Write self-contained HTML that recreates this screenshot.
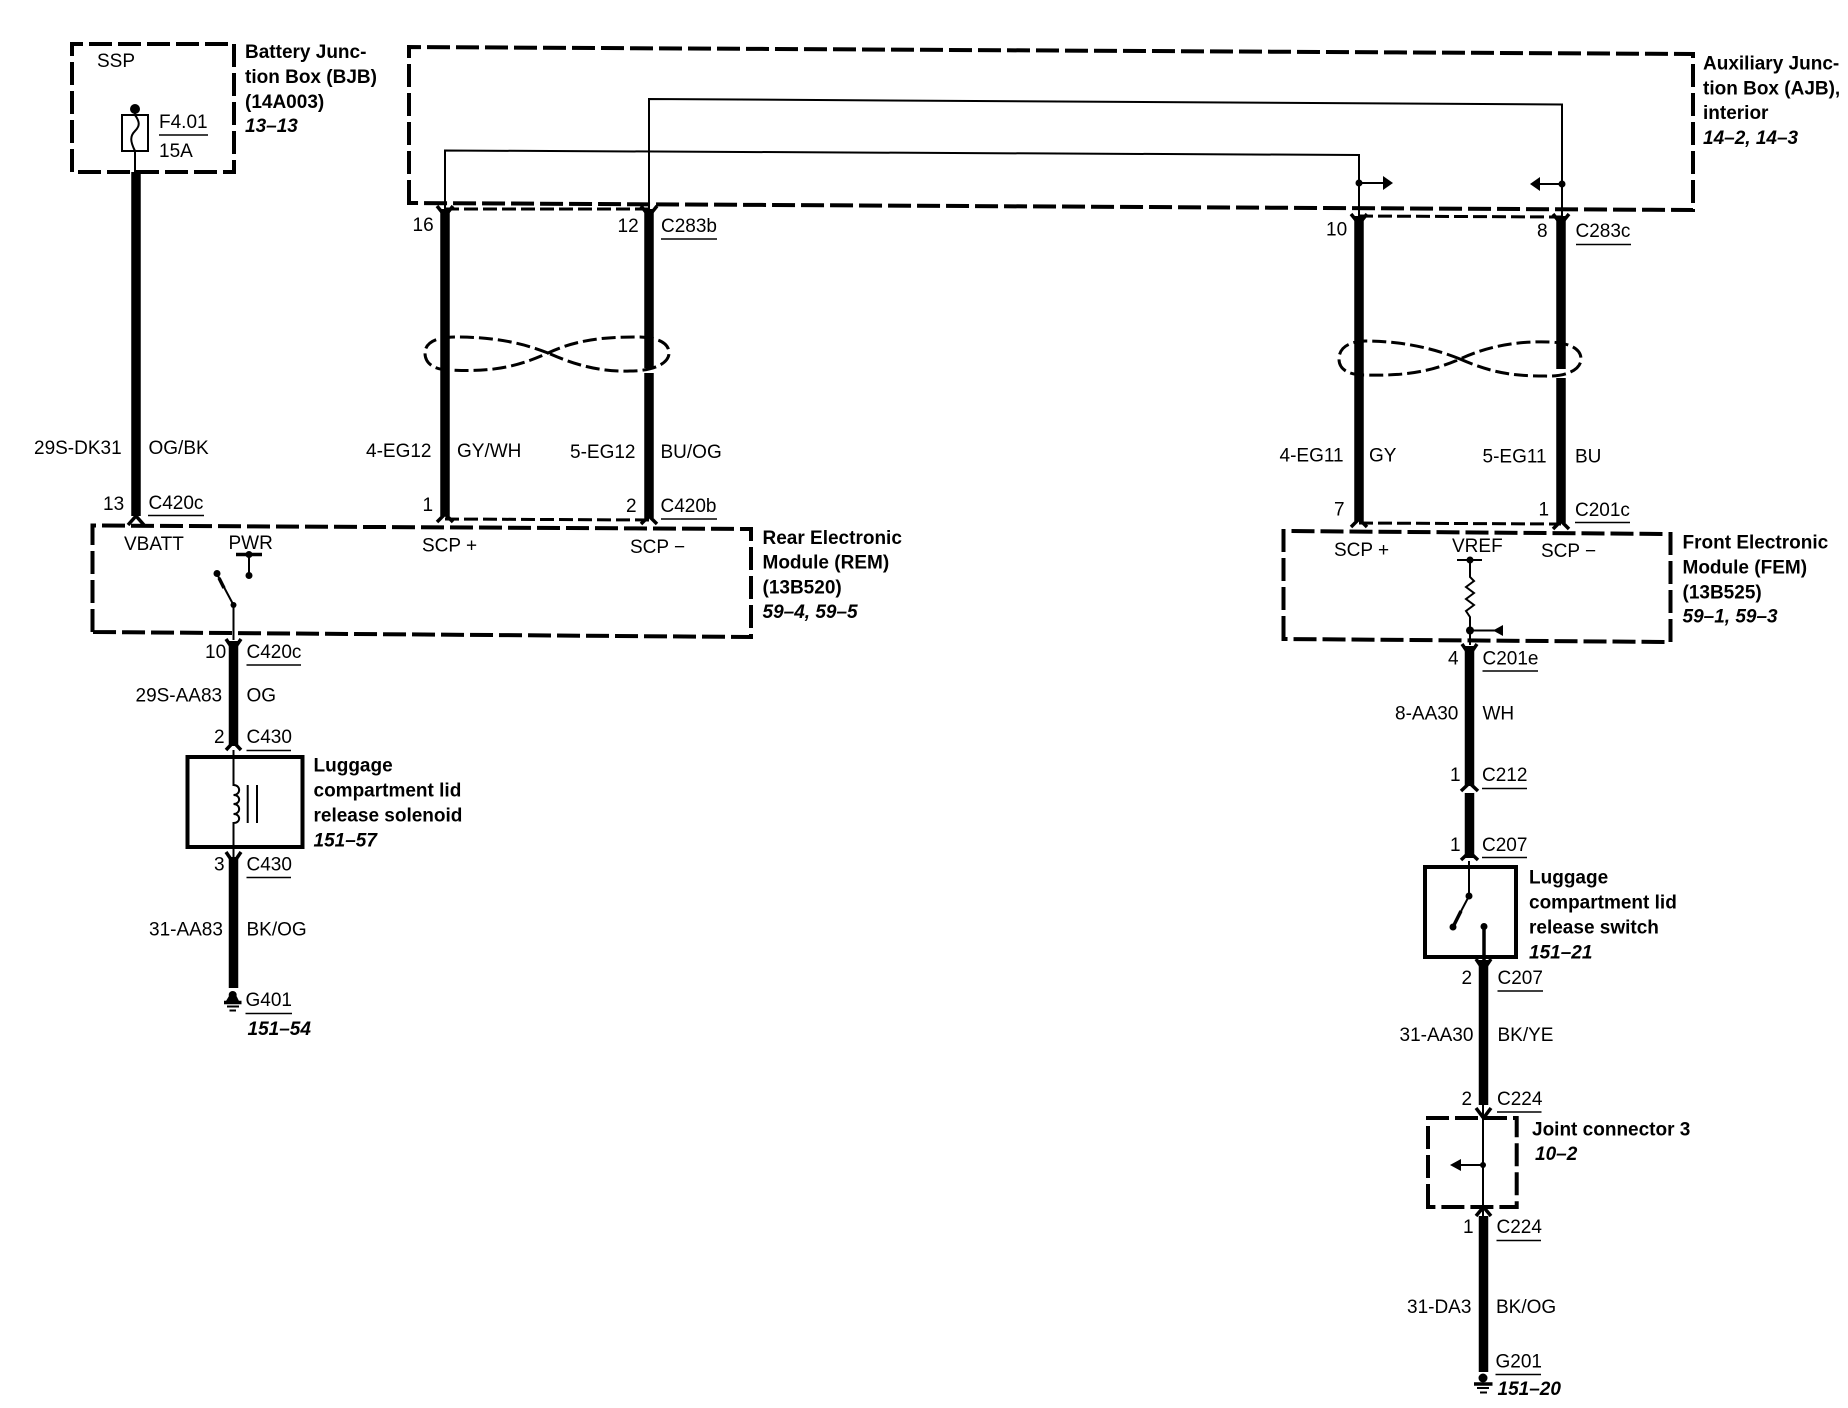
<!DOCTYPE html>
<html><head><meta charset="utf-8"><style>
html,body{margin:0;padding:0;background:#fff}
svg{display:block}
text{font-family:"Liberation Sans",sans-serif;font-size:19px;fill:#000}
.b{font-weight:bold}
.i{font-weight:bold;font-style:italic}
.t{fill:none;stroke:#000;stroke-width:9.5}
.n{fill:none;stroke:#000;stroke-width:2}
.u{fill:none;stroke:#000;stroke-width:1.5}
.d{fill:none;stroke:#000;stroke-width:4;stroke-dasharray:23 6}
.e{fill:none;stroke:#000;stroke-width:3;stroke-dasharray:14 5}
.c{fill:none;stroke:#000;stroke-width:3.5}
.s{fill:none;stroke:#000;stroke-width:4}
</style></head><body>
<svg width="1848" height="1408" viewBox="0 0 1848 1408" xmlns="http://www.w3.org/2000/svg">
<rect width="1848" height="1408" fill="#fff"/>

<!-- dashed boxes -->
<path class="d" d="M72,172 L72,44 L234,44 L234,172 Z"/>
<path class="d" d="M409,203 L409,47 L1693,54 L1693,210 Z"/>
<path class="d" d="M92.5,632 L92.5,525.5 L751,529 L751,637 Z"/>
<path class="d" d="M1283.5,639 L1283.5,531 L1670.5,534 L1670.5,642 Z"/>
<path class="d" d="M1428,1207 L1428,1118 L1516.7,1118 L1516.7,1207 Z"/>

<!-- thin junction wiring -->
<path class="n" d="M445,216 L445,150.5 L1359,155 L1359,216"/>
<path class="n" d="M649,212 L649,99 L1562,104.5 L1562,216"/>
<circle cx="1359" cy="183" r="3.5"/><path class="n" d="M1359,183 L1388,183"/><path d="M1383,176 L1393,183 L1383,190 Z"/>
<circle cx="1562" cy="184" r="3.5"/><path class="n" d="M1562,184 L1535,184"/><path d="M1540,177 L1530,184 L1540,191 Z"/>

<!-- BJB -->
<path class="n" d="M135,109 L135,172"/>
<circle cx="135" cy="109" r="5"/>
<rect x="122" y="115" width="26" height="36" fill="#fff" stroke="#000" stroke-width="2"/>
<path class="n" d="M135,115 C140,122 140,126 135,131 C130,136 130,141 135,151"/>
<path class="u" d="M159,135 L208,135"/>
<text x="97" y="67">SSP</text>
<text x="159" y="128">F4.01</text>
<text x="159" y="157">15A</text>
<text class="b" x="245" y="58">Battery Junc-</text>
<text class="b" x="245" y="83">tion Box (BJB)</text>
<text class="b" x="245" y="108">(14A003)</text>
<text class="i" x="245" y="132">13–13</text>

<!-- main thick wires -->
<path class="t" d="M136,172 L136,516"/>
<path class="t" d="M445,209 L445,516"/>
<path class="t" d="M649,209 L649,368 M649,373 L649,518"/>
<path class="t" d="M1359,216 L1359,521"/>
<path class="t" d="M1561,216 L1561,369 M1561,378 L1561,523"/>
<path class="e" d="M445,209 L649,209"/>
<path class="e" d="M445,519 L649,520"/>
<path class="e" d="M1359,216 L1561,217"/>
<path class="e" d="M1359,523 L1561,524"/>

<!-- chevrons -->
<path class="c" d="M128,525 L136,516 L144,525 M437,522 L445,514 L453,522 M641,524 L649,516 L657,524 M1351,527 L1359,519 L1367,527 M1553,529 L1561,521 L1569,529"/>
<path class="c" d="M437,206 L445,216 L453,206 M641,206 L649,216 L657,206 M1351,214 L1359,224 L1367,214 M1553,214 L1561,224 L1569,214"/>

<!-- twists -->
<path class="e" d="M548,353 C515,340 485,337 455,337 C432,337 425,345 425,353 C425,362 432,370 450,370 C490,372 515,368 548,353 C580,338 610,337 640,337 C662,338 669,345 669,353 C669,364 652,371 630,371 C600,372 575,365 548,353 Z"/>
<path class="e" d="M1460,359 C1428,346 1395,341 1365,341 C1345,342 1339,350 1339,359 C1339,368 1346,375 1365,375 C1405,376 1430,372 1460,359 C1490,345 1520,341 1550,342 C1572,343 1581,350 1581,359 C1581,370 1565,377 1545,376 C1510,376 1490,372 1460,359 Z"/>

<!-- left labels -->
<text x="34" y="454">29S-DK31</text>
<text x="148.5" y="454">OG/BK</text>
<text x="103" y="510">13</text>
<text x="148.5" y="509">C420c</text>
<path class="u" d="M148,515.5 L204,515.5"/>
<text x="412.5" y="231">16</text>
<text x="617.5" y="232">12</text>
<text x="661" y="232">C283b</text>
<path class="u" d="M661,239 L717,239"/>
<text x="366" y="457">4-EG12</text>
<text x="457" y="457">GY/WH</text>
<text x="570" y="458">5-EG12</text>
<text x="660.5" y="458">BU/OG</text>
<text x="422.5" y="511">1</text>
<text x="626" y="512">2</text>
<text x="660.5" y="512">C420b</text>
<path class="u" d="M661,519 L717,519"/>
<text x="124" y="550">VBATT</text>
<text x="228.5" y="549">PWR</text>
<text x="422" y="551.5">SCP +</text>
<text x="630" y="553">SCP −</text>
<text class="b" x="762.5" y="544">Rear Electronic</text>
<text class="b" x="762.5" y="568.5">Module (REM)</text>
<text class="b" x="762.5" y="593.5">(13B520)</text>
<text class="i" x="762.5" y="618">59–4, 59–5</text>

<!-- PWR + switch -->
<path class="c" d="M236,554.5 L262,554.5"/>
<path class="n" d="M249,554.5 L249,575"/>
<circle cx="249" cy="554.5" r="3.5"/><circle cx="249" cy="575.5" r="3.5"/>
<path class="n" d="M217,574 L233.5,605 L233.5,640"/>
<path class="c" d="M219,578 L224,588"/>
<circle cx="217" cy="573.5" r="3.5"/><circle cx="233.5" cy="605" r="3"/>

<!-- left lower column -->
<path class="t" d="M233.5,641 L233.5,746"/>
<path class="c" d="M226,639 L233.5,650 L241,639 M226,750 L233.5,742 L241,750"/>
<rect x="187.5" y="757" width="115" height="90" class="s"/>
<path class="n" d="M233.5,750 L233.5,785 C241,785 241,795 233.5,795 C241,795 241,804 233.5,804 C241,804 241,814 233.5,814 C241,814 241,823 233.5,823 L233.5,857"/>
<path class="n" d="M247.7,785 L247.7,823 M257,785 L257,823"/>
<path class="t" d="M233.5,857 L233.5,988"/>
<path class="c" d="M226,852 L233.5,863 L241,852"/>
<circle cx="232.7" cy="995" r="4"/>
<path d="M229,996 L236.5,996 L239,1001 L226,1001 Z"/>
<path class="c" d="M224,1002.5 L241.5,1002.5"/>
<path class="n" d="M227,1006.5 L239,1006.5 M229.5,1010.5 L236,1010.5"/>
<text x="205" y="658">10</text>
<text x="246.5" y="658">C420c</text>
<path class="u" d="M246.5,665 L301,665"/>
<text x="135.5" y="701.5">29S-AA83</text>
<text x="246.5" y="701.5">OG</text>
<text x="214" y="743">2</text>
<text x="246.5" y="743">C430</text>
<path class="u" d="M246.5,750.5 L291,750.5"/>
<text class="b" x="313.5" y="771.5">Luggage</text>
<text class="b" x="313.5" y="796.5">compartment lid</text>
<text class="b" x="313.5" y="821.5">release solenoid</text>
<text class="i" x="313.5" y="846.5">151–57</text>
<text x="214" y="870.5">3</text>
<text x="246.5" y="870.5">C430</text>
<path class="u" d="M246.5,877.5 L291,877.5"/>
<text x="149" y="935.5">31-AA83</text>
<text x="246.5" y="935.5">BK/OG</text>
<text x="245.5" y="1006">G401</text>
<path class="u" d="M245.5,1013.5 L292,1013.5"/>
<text class="i" x="247.5" y="1035">151–54</text>

<!-- right labels -->
<text class="b" x="1703" y="69.5">Auxiliary Junc-</text>
<text class="b" x="1703" y="94.5">tion Box (AJB),</text>
<text class="b" x="1703" y="119">interior</text>
<text class="i" x="1703" y="144">14–2, 14–3</text>
<text x="1326" y="235.5">10</text>
<text x="1537" y="237">8</text>
<text x="1575.5" y="237">C283c</text>
<path class="u" d="M1576,244.5 L1631,244.5"/>
<text x="1279.5" y="461.5">4-EG11</text>
<text x="1369" y="461.5">GY</text>
<text x="1482.5" y="462.5">5-EG11</text>
<text x="1575" y="462.5">BU</text>
<text x="1334" y="515.5">7</text>
<text x="1538.5" y="515.5">1</text>
<text x="1575" y="516">C201c</text>
<path class="u" d="M1575,522.5 L1630,522.5"/>
<text x="1334" y="556">SCP +</text>
<text x="1452" y="552">VREF</text>
<text x="1541" y="557">SCP −</text>
<text class="b" x="1682.5" y="548.5">Front Electronic</text>
<text class="b" x="1682.5" y="573.5">Module (FEM)</text>
<text class="b" x="1682.5" y="598.5">(13B525)</text>
<text class="i" x="1682.5" y="622.5">59–1, 59–3</text>

<!-- VREF + resistor -->
<path class="n" d="M1457,560 L1482,560"/>
<circle cx="1470" cy="560" r="3.5"/>
<path class="n" d="M1470,560 L1470,577 L1474,581 L1466,587 L1474,593 L1466,599 L1474,605 L1466,611 L1470,617 L1470,645"/>
<circle cx="1470" cy="630.5" r="4"/>
<path class="n" d="M1470,630.5 L1500,630.5"/>
<path d="M1493,630.5 L1503,625 L1503,636 Z"/>

<!-- right lower column -->
<path class="t" d="M1469.5,646 L1469.5,786 M1469.5,793 L1469.5,858"/>
<path class="c" d="M1462,644 L1469.5,655 L1477,644 M1461,791 L1469.5,783 L1478,791 M1461,860 L1469.5,852 L1478,860"/>
<rect x="1425" y="867" width="91" height="90" class="s"/>
<path class="n" d="M1469,861 L1469,896"/>
<circle cx="1469" cy="896" r="3.5"/>
<path class="n" d="M1469,896 L1453,926.5"/>
<path class="c" d="M1461,911 L1454,925"/>
<circle cx="1453" cy="927" r="3.5"/>
<circle cx="1484" cy="926.5" r="3.5"/>
<path class="c" d="M1484,926.5 L1484,960"/>
<path class="t" d="M1483.5,960 L1483.5,1105"/>
<path class="c" d="M1476,959 L1483.5,970 L1491,959"/>
<path class="n" d="M1483,1105 L1483,1218" stroke-width="2.5"/>
<path class="c" d="M1476,1108 L1483.5,1118 L1491,1108 M1476,1216 L1483.5,1207 L1491,1216"/>
<circle cx="1483" cy="1165" r="3"/>
<path class="n" d="M1483,1165 L1458,1165"/>
<path d="M1450,1165 L1461,1159 L1461,1171 Z"/>
<path class="t" d="M1483.5,1216 L1483.5,1372"/>
<circle cx="1483" cy="1378" r="4.5"/>
<path class="c" d="M1474,1384 L1492.5,1384"/>
<path class="n" d="M1477,1388 L1489,1388 M1480,1392.5 L1487,1392.5"/>
<text x="1448" y="664.5">4</text>
<text x="1482.5" y="664.5">C201e</text>
<path class="u" d="M1482.5,671 L1538,671"/>
<text x="1395" y="719.5">8-AA30</text>
<text x="1482.5" y="719.5">WH</text>
<text x="1450" y="781">1</text>
<text x="1482" y="781">C212</text>
<path class="u" d="M1482,788.5 L1527,788.5"/>
<text x="1450" y="851">1</text>
<text x="1482" y="851">C207</text>
<path class="u" d="M1482,857.5 L1527,857.5"/>
<text class="b" x="1529" y="883.5">Luggage</text>
<text class="b" x="1529" y="908.5">compartment lid</text>
<text class="b" x="1529" y="933.5">release switch</text>
<text class="i" x="1529" y="958.5">151–21</text>
<text x="1461.5" y="984">2</text>
<text x="1497.5" y="984">C207</text>
<path class="u" d="M1497.5,991 L1543,991"/>
<text x="1399.5" y="1041">31-AA30</text>
<text x="1497.5" y="1041">BK/YE</text>
<text x="1461.5" y="1105">2</text>
<text x="1497" y="1105">C224</text>
<path class="u" d="M1497,1112 L1541.5,1112"/>
<text class="b" x="1532" y="1135.5">Joint connector 3</text>
<text class="i" x="1535" y="1160">10–2</text>
<text x="1463" y="1233">1</text>
<text x="1496.5" y="1233">C224</text>
<path class="u" d="M1496.5,1240.5 L1541,1240.5"/>
<text x="1407" y="1313">31-DA3</text>
<text x="1496" y="1313">BK/OG</text>
<text x="1495.5" y="1367.5">G201</text>
<path class="u" d="M1495.5,1374.5 L1541,1374.5"/>
<text class="i" x="1497.5" y="1395">151–20</text>
</svg>
</body></html>
